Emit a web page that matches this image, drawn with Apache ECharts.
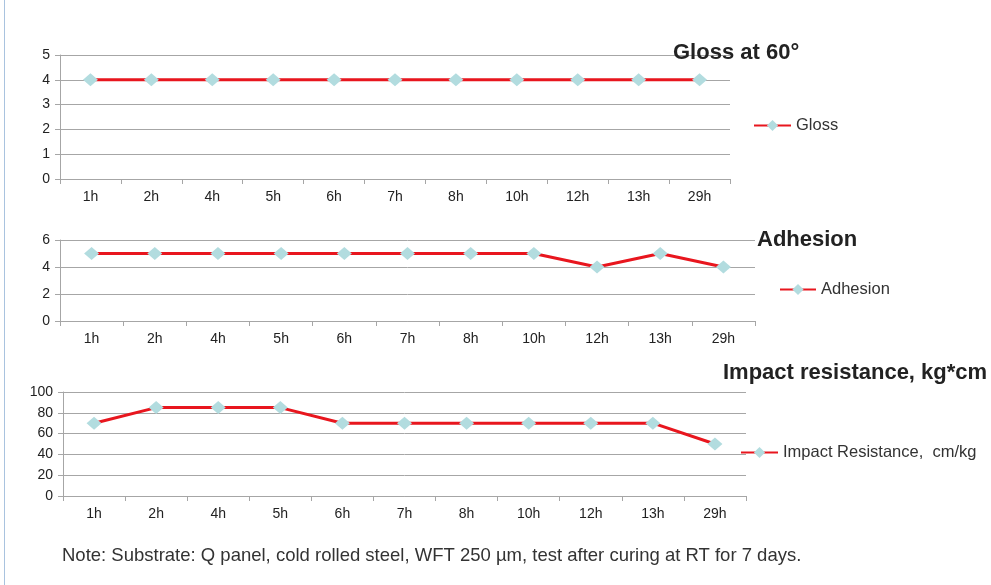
<!DOCTYPE html>
<html>
<head>
<meta charset="utf-8">
<script src="https://cdn.jsdelivr.net/npm/echarts@6/dist/echarts.min.js"></script>
<style>
html, body { margin: 0; padding: 0; background: #fff; }
#main { width: 991px; height: 585px; }
.border { position: absolute; left: 4px; top: 0; width: 1px; height: 585px; background: #a9c3df; }
</style>
</head>
<body>
<div class="border"></div>
<div id="main"></div>
<script>
const hours = ['1h', '2h', '4h', '5h', '6h', '7h', '8h', '10h', '12h', '13h', '29h'];
const gloss = [4, 4, 4, 4, 4, 4, 4, 4, 4, 4, 4];
const adhesion = [5, 5, 5, 5, 5, 5, 5, 5, 4, 5, 4];
const impact = [70, 85, 85, 85, 70, 70, 70, 70, 70, 70, 50];

const chart = echarts.init(document.getElementById('main'));

const font = 'Liberation Sans, Arial, sans-serif';
const lineColor = '#e8161e';
const dotColor = '#b2dcdf';

function xAx(idx) {
  return {
    type: 'category', gridIndex: idx, data: hours, boundaryGap: true,
    axisLine: { lineStyle: { color: '#a6a6a6' } },
    axisTick: { show: true, length: 5, lineStyle: { color: '#a6a6a6' } },
    axisLabel: { color: '#222', fontSize: 14, fontFamily: font, margin: 11 }
  };
}
function yAx(idx, max, step) {
  return {
    type: 'value', gridIndex: idx, min: 0, max: max, interval: step,
    axisLine: { show: true, lineStyle: { color: '#a6a6a6' } },
    axisTick: { show: true, length: 5, inside: false, lineStyle: { color: '#a6a6a6' } },
    axisLabel: { color: '#222', fontSize: 14, fontFamily: font, margin: 10 },
    splitLine: { lineStyle: { color: '#a6a6a6' } }
  };
}
function ser(name, idx, data) {
  return {
    name: name, type: 'line', xAxisIndex: idx, yAxisIndex: idx, data: data,
    symbol: 'diamond', symbolSize: [15, 13],
    lineStyle: { color: lineColor, width: 3 },
    itemStyle: { color: dotColor },
    emphasis: { disabled: true }
  };
}
function leg(name, left, top, w) {
  return {
    data: [name], left: left, top: top, itemWidth: w, itemHeight: 14, itemGap: 4, padding: 0,
    textStyle: { color: '#333', fontSize: 16.5, fontFamily: font }
  };
}
const titleStyle = { color: '#222', fontSize: 22, fontWeight: 'bold', fontFamily: font };

const option = {
  animation: false,
  title: [
    { text: 'Gloss at 60°', left: 673, top: 42, textStyle: titleStyle, padding: 0 },
    { text: 'Adhesion', left: 757, top: 229, textStyle: titleStyle, padding: 0 },
    { text: 'Impact resistance, kg*cm', left: 723, top: 362, textStyle: titleStyle, padding: 0 }
  ],
  legend: [
    leg('Gloss', 753, 117, 37),
    leg('Adhesion', 779, 281, 36),
    leg('Impact Resistance,  cm/kg', 740, 444, 37)
  ],
  grid: [
    { left: 60, top: 55, width: 670, height: 124 },
    { left: 60, top: 240, width: 695, height: 81 },
    { left: 63, top: 392, width: 683, height: 104 }
  ],
  xAxis: [xAx(0), xAx(1), xAx(2)],
  yAxis: [yAx(0, 5, 1), yAx(1, 6, 2), yAx(2, 100, 20)],
  series: [
    ser('Gloss', 0, gloss),
    ser('Adhesion', 1, adhesion),
    ser('Impact Resistance,  cm/kg', 2, impact)
  ],
  graphic: [{
    type: 'text', left: 62, top: 546,
    style: { text: 'Note: Substrate: Q panel, cold rolled steel, WFT 250 µm, test after curing at RT for 7 days.',
      fill: '#333', fontSize: 18.5, fontFamily: font }
  }]
};
chart.setOption(option);
</script>
</body>
</html>
